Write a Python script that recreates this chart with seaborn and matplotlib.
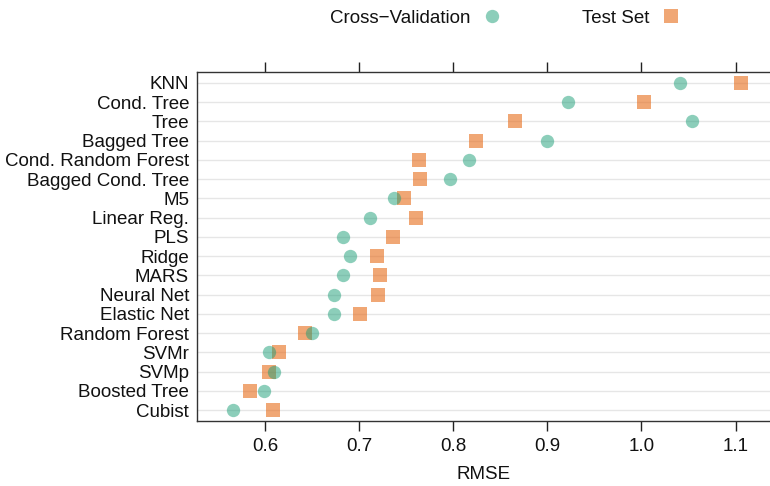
import pandas as pd
import matplotlib.pyplot as plt
import seaborn as sns
from matplotlib.lines import Line2D

models = [
    "KNN", "Cond. Tree", "Tree", "Bagged Tree", "Cond. Random Forest",
    "Bagged Cond. Tree", "M5", "Linear Reg.", "PLS", "Ridge", "MARS",
    "Neural Net", "Elastic Net", "Random Forest", "SVMr", "SVMp",
    "Boosted Tree", "Cubist",
]
cv_rmse = [
    1.041, 0.922, 1.054, 0.899, 0.816, 0.796, 0.737, 0.711, 0.682, 0.690,
    0.682, 0.673, 0.673, 0.650, 0.604, 0.609, 0.598, 0.565,
]
test_rmse = [
    1.106, 1.003, 0.865, 0.824, 0.763, 0.764, 0.747, 0.760, 0.736, 0.719,
    0.722, 0.720, 0.701, 0.642, 0.614, 0.604, 0.583, 0.608,
]
x_ticks = [0.6, 0.7, 0.8, 0.9, 1.0, 1.1]

cv_color = "#1b9e77"
test_color = "#e66c1a"

sns.set_style("white")
plt.rcParams["font.family"] = ["Liberation Sans", "DejaVu Sans"]
plt.rcParams["font.size"] = 13.5
plt.rcParams["text.color"] = "#111111"
plt.rcParams["xtick.color"] = "#111111"
plt.rcParams["ytick.color"] = "#111111"
plt.rcParams["axes.labelcolor"] = "#111111"

fig = plt.figure(figsize=(7.7, 4.86), dpi=100)
ax = fig.add_axes([0.2564, 0.1337, 0.7436, 0.7182])

for i in range(len(models)):
    ax.axhline(i, color="#e6e6e6", linewidth=1, zorder=0)

sns.stripplot(x=cv_rmse, y=models, order=models, jitter=False, marker="o",
              size=9.6, color=cv_color, alpha=0.5, linewidth=0, ax=ax, zorder=3)
sns.stripplot(x=test_rmse, y=models, order=models, jitter=False, marker="s",
              size=9.6, color=test_color, alpha=0.6, linewidth=0, ax=ax, zorder=2)

ax.set_xlim(0.5276, 1.1367)
ax.set_ylim(len(models) - 0.43, -0.57)
ax.set_xticks(x_ticks)
ax.set_xticklabels([f"{t:.1f}" for t in x_ticks])
ax.set_xlabel("RMSE", labelpad=8)
ax.set_ylabel("")
ax.tick_params(axis="x", which="both", direction="out", length=7, width=1,
               color="#222222", top=True, labeltop=False, bottom=True, pad=5)
ax.tick_params(axis="y", length=0, pad=6)
for side in ["left", "bottom", "top"]:
    ax.spines[side].set_color("#333333")
    ax.spines[side].set_linewidth(1)
ax.spines["right"].set_visible(False)

handles = [
    Line2D([], [], linestyle="none", marker="o", markersize=9.6,
           markerfacecolor=cv_color, markeredgewidth=0, alpha=0.5,
           label="Cross\u2212Validation"),
    Line2D([], [], linestyle="none", marker="s", markersize=9.6,
           markerfacecolor=test_color, markeredgewidth=0, alpha=0.6,
           label="Test Set"),
]
fig.legend(handles=handles, loc="center", bbox_to_anchor=(0.662, 0.962),
           ncol=2, frameon=False, markerfirst=False, columnspacing=3.8,
           handletextpad=0.15)

fig.savefig("out.png", dpi=100)
